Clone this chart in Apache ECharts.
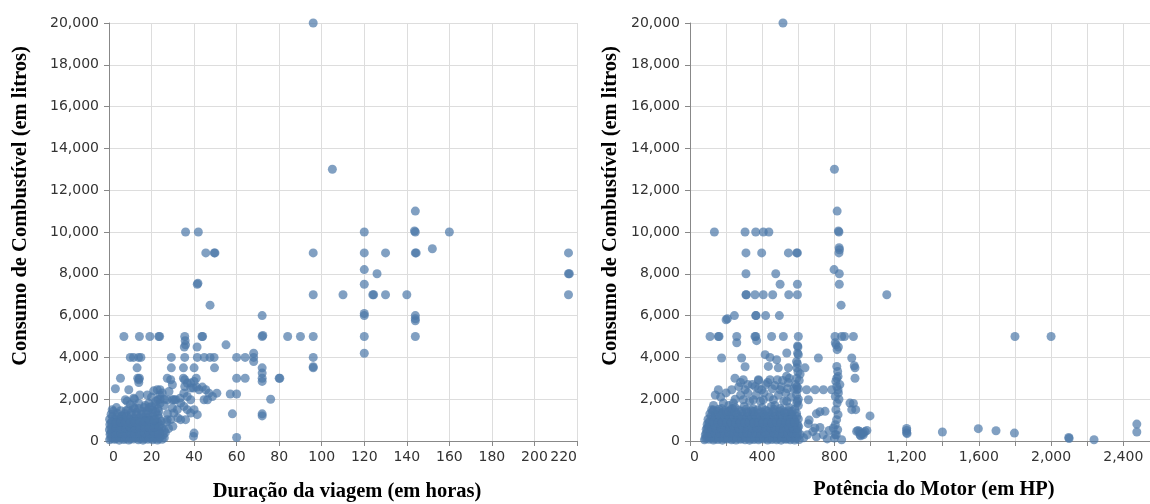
<!DOCTYPE html>
<html>
<head>
<meta charset="utf-8">
<script src="https://cdn.jsdelivr.net/npm/echarts@6/dist/echarts.min.js"></script>
<style>html,body{margin:0;padding:0;background:#fff}#c{width:1150px;height:504px}</style>
</head>
<body>
<div id="c"></div>
<script>
// ---------- DATA ----------
const yTitle = 'Consumo de Combustível (em litros)';
const xTitleLeft = 'Duração da viagem (em horas)';
const xTitleRight = 'Potência do Motor (em HP)';

// Left: duration (h) vs fuel (L)
const tripOutliers = [
[96,20000],[105,13000],[144,11000],[144,10000],[143.6,10050],[120,10000],[160,10000],[152,9200],
[130,9000],[144,9000],[144.4,9000],[120,9000],[96,9000],[216,9000],[216,8000],[216.4,8000],[216,7000],
[120,8200],[126,8000],[120,7500],[124,7000],[124.4,7000],[130,7000],[140,7000],[110,7000],[96,7000],
[120,6000],[120,6100],[144,6000],[144,5850],[144,5750],[144,5000],[120,5000],[96,5000],[96,4000],[96,3500],[96,3550],[120,4200],
[90,5000],[84,5000],[72,6000],[72,5000],[72.3,5050],[72,3500],[72,3250],[72,3000],[72,2850],[72,1300],[72,1200],[80,3000],[80.3,3000],[76,2000],
[68,4200],[68,4000],[68,3800],[64,4000],[60,4000],[60,3000],[64,3000],[60,2250],[57,2250],[58,1300],[60,170],[55,4600],[47.5,6500],
[36,10000],[42,10000],[45.5,9000],[49.5,9000],[49.8,9000],[41.5,7500],[41.8,7550],
[7,5000],[14.3,5000],[19.2,5000],[23.4,5000],[23.8,5000],[35.6,5000],[35.8,4800],[36,4600],[35.4,4500],[43.7,5000],[44,5000],[41.4,4500],
[10,4000],[11.5,4000],[13.9,4000],[15,4000],[29.3,4000],[35.6,4000],[41.5,4000],[44.8,4000],[47.5,4000],[49.4,4000],
[13.2,3500],[29.3,3500],[35,3500],[40,3500],[49.6,3500],
[5.4,3000],[13.5,3000],[14.3,3000],[27.4,3000],[35,3000],[41,3000],[14,2800],[3,2500],[9.3,2450]
];
const tripBand = [
[29.0,2930],[29.8,2690],[27.4,1975],[29.8,1975],[31.3,1975],[33.4,2050],[35.6,2930],[35.6,2610],[36.8,2770],[38.4,2770],
[38.4,2530],[40.0,2850],[39.7,2530],[41.2,2580],[42.3,2450],[43.9,2580],[45.5,2450],[47.0,2290],[48.6,2130],[50.7,2290],
[35.2,2290],[36.8,2130],[38.4,1975],[33.7,1815],[35.2,1655],[36.8,1500],[38.4,1340],[40.0,1500],[41.5,1260],[44.7,1975],
[46.3,1975],[29.8,1580],[30.5,1340],[32.4,1100],[33.7,1020],[27.4,1020],[40.0,380],[23.4,380],[39.7,220],
[7.7,1975],[11.6,2050],[14,2930],[18.7,1815],[22.7,2450],[23.1,1975],[23.4,1415],[28.2,2370],[30.5,1975],[32.1,1500],[36,1020],[29,1020],[23.4,220]
];
const tripCore = [
[0.3,60],[2.5,80],[4.8,40],[7,70],[9.3,50],[11.5,90],[13.8,60],[16,40],[18.3,80],[20.5,60],[22.8,50],[25,80],
[0.5,320],[2.8,280],[5,310],[7.3,290],[9.5,330],[11.8,300],[14,270],[16.3,320],[18.5,300],[20.8,280],[23,310],[25.5,290],
[0.2,540],[2.4,570],[4.6,530],[6.9,560],[9.1,550],[11.4,580],[13.6,540],[15.9,560],[18.1,530],[20.4,570],[22.6,550],[24.8,600],
[0.4,790],[2.6,820],[4.9,780],[7.1,810],[9.4,800],[11.6,830],[13.9,790],[16.1,820],[18.4,850],[20.6,880],[22.9,900],[24.5,950],
[0.3,1040],[2.7,1060],[5,1030],[7.2,1070],[9.5,1050],[11.7,1080],[14,1100],[16.2,1120],[18.5,1150],[20.7,1200],[23,1250],
[1,1280],[4,1320],[7.5,1300],[10.5,1350],[13,1380],[15.5,1420],[18,1450],[20.5,1500],[23,1550],
[24,1800],[24,2000],[24,2200],[24,2450],[22,1750],[20,1650],[16.5,1600],[12,1550],[8,1450],[26,1700],[26,2000],
[27.5,1300],[27,900],[28,600],[26.5,400],[30,700],[12,2000],[14.5,2200],[8.5,1900],[3.5,1600],[1.5,1500],[18,2200],
[20,2100],[21,2400],[14,1800],[10,1750],[6,1200],[17,1000],[21.5,700],[3.5,900],[12.5,400],[19.5,350],[26,150]
];
const tripCore2 = [
[1.4,180],[3.7,200],[5.9,170],[8.2,190],[10.4,210],[12.7,180],[14.9,160],[17.2,200],[19.4,190],[21.7,170],[24,200],
[1.3,430],[3.6,450],[5.8,420],[8.1,440],[10.3,410],[12.6,450],[14.8,430],[17.1,420],[19.3,460],[21.6,440],[23.9,430],[26,500],
[1.5,680],[3.8,660],[6,700],[8.3,690],[10.5,670],[12.8,710],[15,680],[17.3,700],[19.5,720],[21.8,740],[24.1,760],
[1.4,930],[3.7,950],[5.9,920],[8.2,960],[10.4,940],[12.7,970],[14.9,990],[17.2,1000],[19.4,1020],[21.7,1060],[23.5,1100],
[1.6,1180],[3.9,1170],[6.1,1200],[8.4,1190],[10.6,1230],[12.9,1250],[15.1,1280],[17.4,1300],[19.6,1340],[21.9,1400]
];
const tripCore3 = [
[0.9,130],[3.1,110],[5.4,140],[7.6,120],[9.9,100],[12.1,150],[14.4,120],[16.6,110],[18.9,140],[21.1,120],[23.4,110],
[0.8,380],[3.2,360],[5.5,400],[7.7,370],[10,390],[12.2,360],[14.5,380],[16.7,400],[19,370],[21.2,390],[23.5,360],
[0.9,620],[3.3,640],[5.5,610],[7.8,630],[10,650],[12.3,620],[14.5,640],[16.8,660],[19,640],[21.3,670],[23.5,690],
[1,880],[3.2,860],[5.5,900],[7.7,880],[10,870],[12.2,910],[14.5,930],[16.7,950],[19,960],[21.2,1000],
[2,1420],[5.5,1450],[9,1500],[11.5,1620],[14,1560],[17,1700],[19,1600],[22,1900],[25,2300]
];

// Right: engine power (HP) vs fuel (L)
const hpOutliers = [
[515,20000],[800,13000],[815,11000],[825,10000],[822,10050],[135,10000],[305,10000],[364,10000],[406,10000],[437,10000],
[310,9000],[397,9000],[545,9000],[591,9000],[595,9000],[825,9000],[828,9150],[826,9250],
[798,8200],[827,8000],[310,8000],[475,8000],[499,7500],[595,7500],[827,7500],
[310,7000],[312,7000],[360,7000],[406,7000],[458,7000],[547,7000],[595,7000],[1090,7000],[837,6500],
[200,5800],[207,5850],[246,6000],[364,6000],[366,6000],[419,6000],[495,6000],
[111,5000],[157,5000],[161,5000],[259,5000],[360,5000],[364,5000],[452,5000],[517,5000],[600,5000],[803,5000],[840,5000],[856,5000],[905,5000],
[259,4700],[369,4800],[596,4550],[809,4600],[822,4500],[1800,5000],[2000,5000],
[175,3970],[286,3970],[416,4130],[443,4000],[480,3890],[536,4210],[600,4130],[711,3970],[896,3970],[910,3600],
[305,3550],[434,3570],[489,3500],[545,3500],[591,3500],[637,3500],[813,3570],[914,3500],
[249,3000],[295,2930],[379,2930],[443,2930],[484,2930],[550,3000],[591,3000],[813,3000],[914,3000],
[157,2450],[231,2450],[305,2450],[360,2610],[397,2450],[499,2450],[591,2450],[646,2450],[693,2450],[739,2450],[785,2450],
[185,1815],[240,1815],[295,1975],[351,1975],[406,1975],[462,1975],[536,1900],[591,1815],[656,1975],[886,1815],
[120,1500],[748,1420],[896,1500],[918,1500],[905,1800],[997,1200],
[930,500],[940,450],[950,350],[960,300],[970,450],[980,500],[945,250],
[1200,600],[1200,500],[1200,400],[1202,350],[1398,430],[1597,590],[1695,490],[1797,380],[2098,170],[2100,120],[2238,60],[2475,810],[2475,430]
];
const hpMid = [
[140,2200],[170,2100],[200,2300],[215,1700],[250,2000],[270,2600],[280,2200],[320,2300],[330,1900],[345,2700],[365,2200],
[380,2500],[390,1900],[410,2300],[420,2700],[440,2100],[455,2500],[470,1700],[490,2200],[505,2600],[520,1900],[530,2300],
[545,2800],[560,2100],[575,2500],[585,2700],[590,2200],[595,1900],[600,2500],[605,2900],[610,3200],[598,3300],[592,2600],
[600,2000],[540,2500],[535,3100],[250,1600],[300,1650],[350,1550],[400,1600],[450,1650],[500,1550],[550,1600],[600,1700],
[175,1550],[130,1700],[225,1500],[280,2800],[320,2700],[380,2900],[430,2800],[470,2650],[513,2900],
[595,3700],[590,3800],[598,4500],[596,4200],
[805,4700],[815,4370],[818,3330],[820,3090],[808,2850],[813,2610],[820,2450],[805,2130],[815,1815],[808,1500],
[820,1260],[812,1020],[805,780],[818,540],[810,300],[800,140],[825,2000],[822,2300],[830,2700],
[655,830],[692,620],[738,300],[794,620],[803,300],[840,60],[923,460],[942,300],[960,380],[650,300],[700,200],
[760,100],[680,450],[720,650],[630,150],[660,1000],[700,1300],[720,1400],[770,500]
];
const hpCore = [
[80,60],[105,80],[130,50],[155,70],[180,40],[205,90],[230,60],[255,50],[280,80],[305,60],[330,40],[355,70],[380,60],[405,90],[430,50],[455,70],[480,60],[505,40],[530,80],[555,60],[580,50],[605,70],
[85,300],[110,280],[135,320],[160,290],[185,310],[210,270],[235,330],[260,300],[285,280],[310,320],[335,290],[360,310],[385,270],[410,300],[435,330],[460,280],[485,310],[510,290],[535,320],[560,300],[585,280],[610,310],
[90,560],[115,530],[140,570],[165,540],[190,550],[215,580],[240,520],[265,560],[290,540],[315,570],[340,530],[365,550],[390,580],[415,540],[440,560],[465,520],[490,570],[515,550],[540,530],[565,560],[590,540],
[95,790],[120,820],[145,780],[170,810],[195,800],[220,830],[245,770],[270,810],[295,790],[320,820],[345,800],[370,780],[395,830],[420,790],[445,810],[470,800],[495,770],[520,820],[545,790],[570,810],[595,800],
[100,1040],[125,1070],[150,1030],[175,1060],[200,1050],[225,1080],[250,1020],[275,1060],[300,1040],[325,1070],[350,1050],[375,1030],[400,1080],[425,1040],[450,1060],[475,1050],[500,1020],[525,1070],[550,1040],[575,1060],[600,1050],
[110,1300],[140,1280],[170,1330],[200,1290],[230,1320],[260,1280],[290,1310],[320,1350],[350,1290],[380,1320],[410,1280],[440,1340],[470,1300],[500,1270],[530,1320],[560,1290],[590,1330]
];
const hpCore2 = [
[92,180],[117,160],[142,200],[167,170],[192,190],[217,160],[242,200],[267,180],[292,170],[317,200],[342,180],[367,160],[392,190],[417,200],[442,170],[467,180],[492,200],[517,160],[542,190],[567,180],[592,170],
[97,430],[122,410],[147,450],[172,420],[197,440],[222,410],[247,450],[272,430],[297,420],[322,450],[347,410],[372,440],[397,430],[422,450],[447,420],[472,440],[497,410],[522,450],[547,430],[572,420],[597,440],
[102,680],[127,660],[152,700],[177,670],[202,690],[227,660],[252,700],[277,680],[302,670],[327,700],[352,660],[377,690],[402,680],[427,700],[452,670],[477,690],[502,660],[527,700],[552,680],[577,670],[602,690],
[107,930],[132,910],[157,950],[182,920],[207,940],[232,910],[257,950],[282,930],[307,920],[332,950],[357,910],[382,940],[407,930],[432,950],[457,920],[482,940],[507,910],[532,950],[557,930],[582,920],
[117,1180],[142,1160],[167,1200],[192,1170],[217,1190],[242,1160],[267,1200],[292,1180],[317,1170],[342,1200],[367,1160],[392,1190],[417,1180],[442,1200],[467,1170],[492,1190],[517,1160],[542,1200],[567,1180],[592,1170],
[130,1480],[160,1520],[195,1450],[235,1550],[270,1480],[310,1520],[340,1450],[375,1500],[420,1470],[465,1520],[510,1480],[545,1450],[580,1520]
];
const hpCore3 = [
[86,120],[111,140],[136,110],[161,130],[186,120],[211,140],[236,110],[261,130],[286,120],[311,140],[336,110],[361,130],[386,120],[411,140],[436,110],[461,130],[486,120],[511,140],[536,110],[561,130],[586,120],
[91,370],[116,390],[141,360],[166,380],[191,370],[216,390],[241,360],[266,380],[291,370],[316,390],[341,360],[366,380],[391,370],[416,390],[441,360],[466,380],[491,370],[516,390],[541,360],[566,380],[591,370],
[96,620],[121,640],[146,610],[171,630],[196,620],[221,640],[246,610],[271,630],[296,620],[321,640],[346,610],[371,630],[396,620],[421,640],[446,610],[471,630],[496,620],[521,640],[546,610],[571,630],[596,620],
[104,870],[129,890],[154,860],[179,880],[204,870],[229,890],[254,860],[279,880],[304,870],[329,890],[354,860],[379,880],[404,870],[429,890],[454,860],[479,880],[504,870],[529,890],[554,860],[579,880],
[125,1400],[155,1420],[185,1380],[215,1410],[250,1390],[285,1420],[315,1400],[355,1410],[395,1390],[430,1420],[460,1400],[495,1410],[525,1390],[565,1420]
];

// ---------- CHART ----------
const fmt = v => v.toLocaleString('en-US');
const labelStyle = {color:'#333', fontSize:14, fontFamily:'DejaVu Sans'};
const titleFont = 'bold 20.5px "Liberation Serif"';
const axisCommon = {
  axisLine:{show:true, onZero:false, lineStyle:{color:'#888', width:1}},
  axisTick:{show:true, length:5, lineStyle:{color:'#888'}},
  splitLine:{show:true, lineStyle:{color:'#ddd', width:1}}
};
function yAx(i){
  return Object.assign({type:'value', gridIndex:i, min:0, max:20000, interval:2000,
    axisLabel:Object.assign({formatter:fmt, margin:10}, labelStyle)}, axisCommon);
}
function txt(x, y, text, rot){
  return {type:'text', x:x, y:y, rotation:rot || 0,
    style:{text:text, font:titleFont, fill:'#000', align:'center', verticalAlign:'middle', textAlign:'center', textVerticalAlign:'middle'}};
}
const chart = echarts.init(document.getElementById('c'), null, {renderer:'canvas'});
chart.setOption({
  animation:false,
  backgroundColor:'#fff',
  grid:[
    {left:109, top:23, width:468, height:418},
    {left:690, top:23, width:460, height:418}
  ],
  xAxis:[
    Object.assign({type:'value', gridIndex:0, min:0, max:220, interval:20,
      axisLabel:Object.assign({formatter:fmt, margin:9, alignMinLabel:'left', alignMaxLabel:'right'}, labelStyle)}, axisCommon),
    Object.assign({type:'value', gridIndex:1, min:0, max:2548, interval:200,
      axisLabel:Object.assign({formatter:v => (v % 400 === 0 ? fmt(v) : ''), margin:9, alignMinLabel:'left', showMaxLabel:false}, labelStyle)}, axisCommon)
  ],
  yAxis:[yAx(0), yAx(1)],
  series:[
    {type:'scatter', xAxisIndex:0, yAxisIndex:0, symbolSize:9, silent:true,
      itemStyle:{color:'#4c78a8', opacity:0.7}, data:tripOutliers.concat(tripBand, tripCore, tripCore2, tripCore3)},
    {type:'scatter', xAxisIndex:1, yAxisIndex:1, symbolSize:9, silent:true,
      itemStyle:{color:'#4c78a8', opacity:0.7}, data:hpOutliers.concat(hpMid, hpCore, hpCore2, hpCore3)}
  ],
  graphic:[
    txt(21, 206, yTitle, Math.PI/2),
    txt(611, 206, yTitle, Math.PI/2),
    txt(347, 492, xTitleLeft),
    txt(934, 490, xTitleRight)
  ]
});
</script>
</body>
</html>
